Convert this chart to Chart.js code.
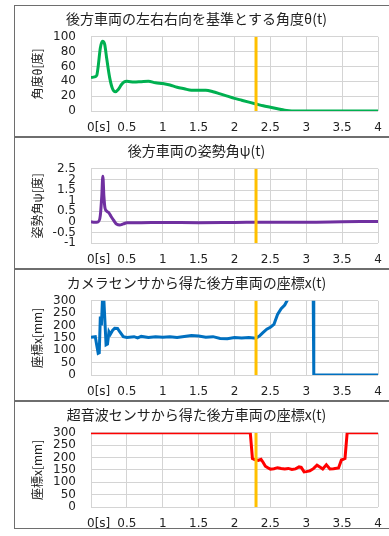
<!DOCTYPE html>
<html>
<head>
<meta charset="utf-8">
<script src="https://cdn.jsdelivr.net/npm/chart.js@4.4.0/dist/chart.umd.min.js"></script>
<style>
  html, body { margin: 0; padding: 0; background: #fff; }
  body { width: 389px; height: 536px; overflow: hidden; position: relative; }
  .panel { position: absolute; left: 14px; width: 381px; border: 1px solid #6e6e6e; box-sizing: border-box; }
  .panel canvas { display: block; }
</style>
</head>
<body>
<div class="panel" style="top:5px;height:132px"><canvas id="c1" width="379" height="130"></canvas></div>
<div class="panel" style="top:137px;height:132px"><canvas id="c2" width="379" height="130"></canvas></div>
<div class="panel" style="top:269px;height:132px"><canvas id="c3" width="379" height="130"></canvas></div>
<div class="panel" style="top:401px;height:128px"><canvas id="c4" width="379" height="126"></canvas></div>
<script>
// time axis (s)
const xTicks = [0, 0.5, 1, 1.5, 2, 2.5, 3, 3.5, 4]
const markerTime = 2.3

// theta(t) [deg]
const thetaT = [0, 0.05, 0.08, 0.1, 0.13, 0.16, 0.19, 0.22, 0.26, 0.3, 0.34, 0.38, 0.42, 0.46, 0.5, 0.6, 0.7, 0.8, 0.9, 1.0, 1.1, 1.2, 1.3, 1.4, 1.5, 1.6, 1.7, 1.8, 1.9, 2.0, 2.1, 2.2, 2.3, 2.4, 2.5, 2.6, 2.7, 2.8, 4.0]
const thetaV = [45, 46, 48, 60, 85, 94, 90, 70, 45, 30, 26, 29, 35, 39, 40, 39, 39.5, 40, 38, 37, 35, 32, 30, 28, 28, 28, 26, 23, 20, 17, 14.5, 12, 9.5, 7, 5, 3, 1, 0, 0]
const thetaTicks = [0, 20, 40, 60, 80, 100]

// psi(t) [deg]
const psiT = [0, 0.05, 0.1, 0.13, 0.15, 0.165, 0.18, 0.195, 0.22, 0.25, 0.28, 0.32, 0.36, 0.4, 0.45, 0.5, 0.7, 1.0, 1.5, 2.0, 2.5, 3.0, 3.5, 4.0]
const psiV = [0, -0.02, 0, 0.3, 1.2, 2.15, 1.2, 0.65, 0.5, 0.42, 0.25, 0.05, -0.12, -0.15, -0.1, -0.05, -0.04, -0.03, -0.04, -0.03, -0.02, -0.02, 0, 0.02]
const psiTicks = [-1, -0.5, 0, 0.5, 1, 1.5, 2, 2.5]

// camera x(t) [mm]
const camT = [0, 0.06, 0.08, 0.1, 0.115, 0.13, 0.145, 0.165, 0.18, 0.21, 0.23, 0.25, 0.27, 0.3, 0.33, 0.37, 0.4, 0.45, 0.5, 0.6, 0.65, 0.7, 0.8, 0.9, 1.0, 1.1, 1.2, 1.3, 1.4, 1.5, 1.6, 1.7, 1.8, 1.9, 2.0, 2.1, 2.2, 2.3, 2.35, 2.4, 2.45, 2.5, 2.55, 2.6, 2.65, 2.7, 2.75, 2.8, 3.095, 3.105, 4.0]
const camV = [153, 155, 120, 88, 90, 236, 200, 340, 300, 122, 125, 175, 165, 180, 189, 188, 175, 155, 152, 155, 150, 156, 152, 155, 153, 155, 152, 156, 160, 158, 153, 155, 148, 147, 152, 150, 152, 149, 158, 172, 185, 193, 205, 245, 268, 283, 310, 350, 400, 0, 0]

// ultrasonic x(t) [mm]
const sonarT = [0, 2.22, 2.25, 2.28, 2.33, 2.37, 2.4, 2.43, 2.47, 2.5, 2.55, 2.6, 2.65, 2.7, 2.75, 2.8, 2.85, 2.9, 2.93, 2.97, 3.0, 3.05, 3.1, 3.15, 3.2, 3.23, 3.28, 3.33, 3.38, 3.45, 3.49, 3.54, 3.57, 4.0]
const sonarV = [300, 300, 196, 192, 188, 193, 180, 165, 158, 153, 155, 159, 156, 154, 156, 152, 154, 162, 160, 142, 143, 146, 155, 169, 160, 154, 171, 154, 155, 158, 190, 196, 300, 300]
const mmTicks = [0, 50, 100, 150, 200, 250, 300]

const toPoints = (ts, vs) => ts.map((t, i) => ({ x: t, y: vs[i] }))

const makeChart = (id, cfg) => {
    const ctx = document.getElementById(id).getContext('2d')
    const yMin = cfg.yTicks[0]
    const yMax = cfg.yTicks[cfg.yTicks.length - 1]
    return new Chart(ctx, {
        type: 'line',
        data: {
            datasets: [
                {
                    data: [{ x: markerTime, y: yMin }, { x: markerTime, y: yMax }],
                    borderColor: '#ffc000',
                    borderWidth: 3,
                    pointRadius: 0
                },
                {
                    data: toPoints(cfg.t, cfg.v),
                    borderColor: cfg.color,
                    borderWidth: 3,
                    pointRadius: 0,
                    tension: 0,
                    cubicInterpolationMode: cfg.smooth ? 'monotone' : 'default'
                }
            ]
        },
        options: {
            responsive: false,
            animation: false,
            events: [],
            layout: { padding: { left: 0, right: 16, top: 0, bottom: 0 } },
            plugins: {
                legend: { display: false },
                tooltip: { enabled: false },
                title: {
                    display: true,
                    text: cfg.title,
                    color: '#222',
                    font: { family: "'Noto Sans CJK JP'", size: 14, weight: 'normal' },
                    padding: { top: 4, bottom: 10 }
                }
            },
            scales: {
                x: {
                    type: 'linear',
                    min: 0,
                    max: 4,
                    afterBuildTicks: (s) => { s.ticks = xTicks.map(v => ({ value: v })) },
                    afterFit: (s) => { s.height = s.chart.height - 105 },
                    grid: { color: '#d4d4d4', drawTicks: false },
                    border: { display: false },
                    ticks: {
                        autoSkip: false,
                        maxRotation: 0,
                        padding: 10,
                        color: '#222',
                        font: { family: "'DejaVu Sans'", size: 12 },
                        callback: (v) => v === 0 ? '    0[s]' : String(v)
                    }
                },
                y: {
                    min: yMin,
                    max: yMax,
                    afterBuildTicks: (s) => { s.ticks = cfg.yTicks.map(v => ({ value: v })) },
                    afterFit: (s) => { s.width = 76 },
                    grid: { color: '#d4d4d4', drawTicks: false },
                    border: { display: false },
                    ticks: {
                        autoSkip: false,
                        padding: 15,
                        color: '#222',
                        font: { family: "'DejaVu Sans'", size: 12, lineHeight: 1 },
                        callback: (v) => String(v)
                    },
                    title: {
                        display: true,
                        text: cfg.yTitle,
                        color: '#222',
                        font: { family: "'Noto Sans CJK JP'", size: 12 },
                        padding: { top: 15, bottom: 0 }
                    }
                }
            }
        }
    })
}

makeChart('c1', { title: '後方車両の左右右向を基準とする角度θ(t)', yTitle: '角度θ[度]', t: thetaT, v: thetaV, yTicks: thetaTicks, color: '#00b050', smooth: true })
makeChart('c2', { title: '後方車両の姿勢角ψ(t)', yTitle: '姿勢角ψ[度]', t: psiT, v: psiV, yTicks: psiTicks, color: '#7030a0', smooth: true })
makeChart('c3', { title: 'カメラセンサから得た後方車両の座標x(t)', yTitle: '座標x[mm]', t: camT, v: camV, yTicks: mmTicks, color: '#0070c0', smooth: false })
makeChart('c4', { title: '超音波センサから得た後方車両の座標x(t)', yTitle: '座標x[mm]', t: sonarT, v: sonarV, yTicks: mmTicks, color: '#ff0000', smooth: false })
</script>
</body>
</html>
